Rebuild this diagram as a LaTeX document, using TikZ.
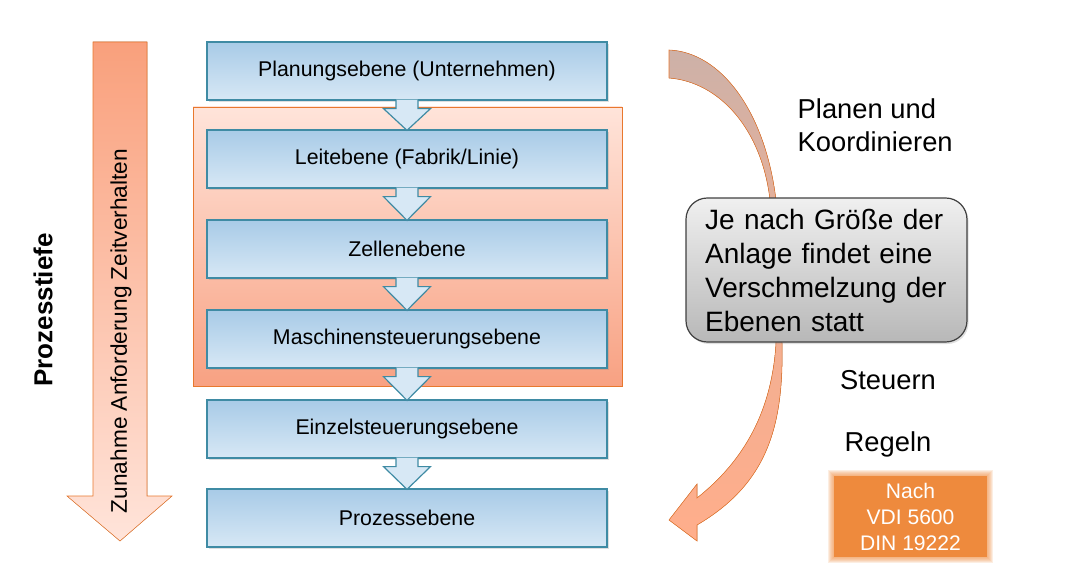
\documentclass[tikz,border=0pt]{standalone}
\usepackage{fontspec}
\setmainfont{Liberation Sans}
\usetikzlibrary{calc,shadows}

\definecolor{ebeneblau}{HTML}{A8CBE7}
\definecolor{ebenehell}{HTML}{D7E8F5}
\definecolor{ebenerand}{HTML}{3F8BA4}
\definecolor{orangerand}{HTML}{E8782E}
\definecolor{lachs}{HTML}{F9A07C}
\definecolor{lachsdunkel}{HTML}{F8A182}
\definecolor{lachshell}{HTML}{FFE4DA}
\definecolor{braungrau}{HTML}{CDB1A8}
\definecolor{bogenlachs}{HTML}{FFAE8B}
\definecolor{normorange}{HTML}{EE8A3D}

\tikzset{
	ebene/.style={draw=ebenerand, line width=0.9pt, top color=ebeneblau, bottom color=ebenehell,
		minimum width=300pt, minimum height=43.5pt, font=\fontsize{16}{19}\selectfont,
		drop shadow={shadow xshift=1.2pt, shadow yshift=-1.5pt, opacity=0.25}},
	pfeil/.style={draw=ebenerand, fill=ebenehell, line width=0.9pt},
	rechts/.style={font=\fontsize{20.5}{24.75}\selectfont, align=left},
}

% Pfeil zwischen zwei Ebenen
\newcommand{\ebenenpfeil}[2]{%
	\filldraw[pfeil] ($(#1.south)+(-11,-1)$) -- ($(#1.south)+(-11,8)$)
		-- ($(#1.south)+(-23.5,8)$) -- ($(#2.north)+(0,1)$)
		-- ($(#1.south)+(23.5,8)$) -- ($(#1.south)+(11,8)$)
		-- ($(#1.south)+(11,-1)$);}

\begin{document}
\begin{tikzpicture}[x=0.75pt, y=-0.75pt]
	\useasboundingbox (0,0) rectangle (1065,567);

	% Prozesstiefe
	\filldraw[draw=orangerand, top color=lachs, bottom color=lachshell]
		(93,42) -- (147,42) -- (147,496) -- (172,496) -- (120,541)
		-- (67,496) -- (93,496) -- cycle;
	\node[rotate=90, font=\fontsize{17}{20}\selectfont] (zeit) at (121,331)
		{Zunahme Anforderung Zeitverhalten};
	\node[rotate=90, font=\bfseries\fontsize{19.5}{23}\selectfont] (tiefe) at (43,310)
		{Prozesstiefe};

	% verschmolzene Ebenen
	\filldraw[draw=orangerand, top color=lachshell, bottom color=lachsdunkel]
		(193,107) rectangle (622,386);

	% Ebenen
	\node[ebene] (planung) at (407,71) {Planungsebene (Unternehmen)};
	\node[ebene] (leit) at (407,159) {Leitebene (Fabrik/Linie)};
	\node[ebene] (zelle) at (407,249) {Zellenebene};
	\node[ebene] (maschine) at (407,339) {Maschinensteuerungsebene};
	\node[ebene] (einzel) at (407,429) {Einzelsteuerungsebene};
	\node[ebene] (prozess) at (407,518) {Prozessebene};

	\ebenenpfeil{planung}{leit}
	\ebenenpfeil{leit}{zelle}
	\ebenenpfeil{zelle}{maschine}
	\ebenenpfeil{maschine}{einzel}
	\ebenenpfeil{einzel}{prozess}

	% Bogen
	\filldraw[draw=orangerand, top color=braungrau, bottom color=bogenlachs,
			middle color=bogenlachs!70!braungrau]
		(669,50) .. controls (720,52) and (765,110) .. (776,200)
		-- (782,343) .. controls (784,430) and (765,485) .. (697,525)
		-- (697,541) -- (669,520) -- (697,484) -- (697,498)
		.. controls (745,460) and (772,410) .. (776,343)
		-- (770,200) .. controls (762,130) and (720,82) .. (669,78) -- cycle;

	\node[rechts, anchor=west] (planen) at (793,125) {Planen und\\Koordinieren};
	\node[rechts] (steuern) at (888,380) {Steuern};
	\node[rechts] (regeln) at (888,444) {Regeln};

	% Hinweis
	\node[draw=black!75, line width=0.9pt, rounded corners=16pt, top color=black!6, bottom color=black!28,
		minimum width=210.75pt, minimum height=108pt, text width=182pt, align=left,
		font=\fontsize{21}{25.5}\selectfont,
		drop shadow={shadow xshift=1.2pt, shadow yshift=-1.5pt, opacity=0.25}] (hinweis) at (826.5,270)
		{Je nach Größe der\\Anlage findet eine\\Verschmelzung der\\Ebenen statt};

	% Norm
	\foreach \i in {1,...,6}
		\fill[normorange, opacity=0.15] (834-\i,476-\i) rectangle (987+\i,557+\i);
	\node[fill=normorange, text=white, minimum width=114.75pt, minimum height=60.75pt,
		align=center, font=\fontsize{15.8}{19.5}\selectfont] (nach) at (910.5,516.5)
		{Nach\\VDI 5600\\DIN 19222};

\end{tikzpicture}
\end{document}
